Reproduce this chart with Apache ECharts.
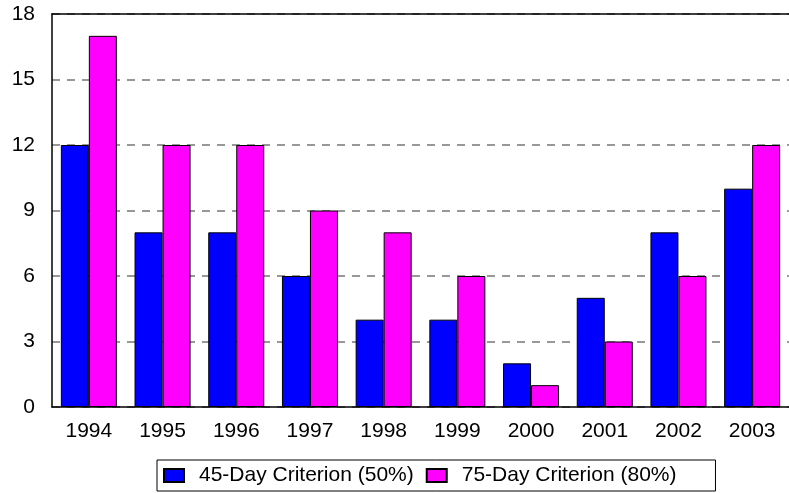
<!DOCTYPE html>
<html><head><meta charset="utf-8">
<script src="https://cdn.jsdelivr.net/npm/echarts@6/dist/echarts.min.js"></script>
<style>html,body{margin:0;padding:0;background:#fff}#c{width:789px;height:493px}</style>
</head><body><div id="c"></div>
<script>
const categories = ['1994','1995','1996','1997','1998','1999','2000','2001','2002','2003'];
const day45 = [12, 8, 8, 6, 4, 4, 2, 5, 8, 10];
const day75 = [17, 12, 12, 9, 8, 6, 1, 3, 6, 12];
const yTicks = {min: 0, max: 18, interval: 3};
const seriesNames = ['45-Day Criterion (50%)', '75-Day Criterion (80%)'];

const chart = echarts.init(document.getElementById('c'));
const font = 'Liberation Sans, Arial, sans-serif';
chart.setOption({
  animation: false,
  grid: {left: 52, right: 0, top: 14, bottom: 86, containLabel: false},
  legend: {
    left: 157, top: 460,
    data: seriesNames,
    itemWidth: 20, itemHeight: 13, itemGap: 12,
    padding: [5, 39, 5, 6],
    borderColor: '#000', borderWidth: 1,
    textStyle: {fontFamily: font, fontSize: 21, color: '#000', padding: [0, 0, 0, 10]},
    icon: 'rect'
  },
  xAxis: [{
    type: 'category', data: categories,
    axisLine: {lineStyle: {color: '#000', width: 1.5}},
    axisTick: {show: false},
    axisLabel: {fontFamily: font, fontSize: 21, color: '#000', margin: 14}
  }, {
    type: 'category', data: categories, position: 'top',
    axisLine: {show: true, lineStyle: {color: '#000', width: 1.5}},
    axisTick: {show: false}, axisLabel: {show: false}
  }],
  yAxis: {
    type: 'value', min: yTicks.min, max: yTicks.max, interval: yTicks.interval,
    axisLine: {show: true, lineStyle: {color: '#000', width: 1.5}},
    axisTick: {show: false},
    axisLabel: {fontFamily: font, fontSize: 21, color: '#000', margin: 17},
    splitLine: {lineStyle: {color: '#777', type: [8, 7], width: 1.5}}
  },
  series: [{
    name: seriesNames[0], type: 'bar', data: day45,
    barGap: '0%', barCategoryGap: '24%',
    itemStyle: {color: '#0000ff', borderColor: '#000', borderWidth: 1}
  }, {
    name: seriesNames[1], type: 'bar', data: day75,
    barGap: '0%', barCategoryGap: '24%',
    itemStyle: {color: '#ff00ff', borderColor: '#000', borderWidth: 1}
  }]
});
</script></body></html>
